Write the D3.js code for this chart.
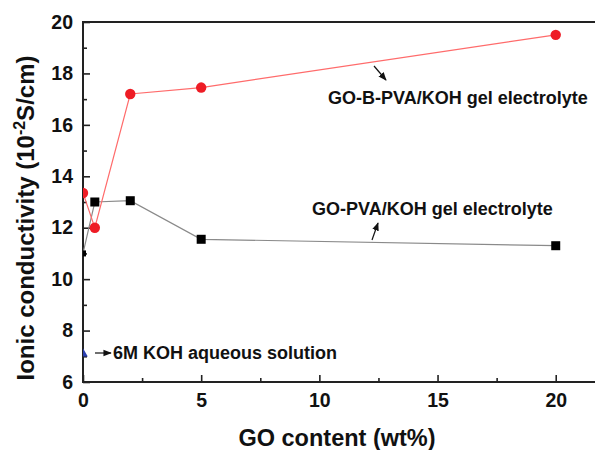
<!DOCTYPE html>
<html>
<head>
<meta charset="utf-8">
<script src="https://cdn.jsdelivr.net/npm/d3@7"></script>
<style>
  html, body { margin: 0; padding: 0; background: #fff; }
  svg { display: block; font-family: "Liberation Sans", Arial, sans-serif; }
</style>
</head>
<body>
<svg id="chart" width="595" height="450"></svg>
<script>
// GO loading (wt%) for each measured sample
const goContent = [0, 0.5, 2, 5, 20];
// Ionic conductivity, 10^-2 S/cm
const goBPva = [13.35, 12.0, 17.2, 17.45, 19.5];
const goPva = [11.0, 13.0, 13.05, 11.55, 11.3];
const kohAqueous = [{ x: 0, y: 7.1 }];

const xTicks = [0, 5, 10, 15, 20];
const yTicks = [6, 8, 10, 12, 14, 16, 18, 20];

const svg = d3.select("#chart");
const m = { left: 83, top: 22, bottom: 382, right: 603 };

const x = d3.scaleLinear().domain([0, 22]).range([m.left, m.right]);
const y = d3.scaleLinear().domain([6, 20]).range([m.bottom, m.top]);

svg.append("defs").append("clipPath").attr("id", "plot")
  .append("rect").attr("x", m.left).attr("y", m.top)
  .attr("width", m.right - m.left).attr("height", m.bottom - m.top);

svg.select("defs").append("marker")
  .attr("id", "head").attr("viewBox", "0 0 10 10")
  .attr("refX", 9).attr("refY", 5)
  .attr("markerWidth", 7).attr("markerHeight", 7)
  .attr("orient", "auto")
  .append("path").attr("d", "M0,1 L10,5 L0,9 Z").attr("fill", "#111");

// frame
svg.append("rect")
  .attr("x", m.left).attr("y", m.top)
  .attr("width", m.right - m.left).attr("height", m.bottom - m.top)
  .attr("fill", "none").attr("stroke", "#222").attr("stroke-width", 2);

// axes with inward ticks
svg.append("g").attr("transform", `translate(0,${m.bottom})`)
  .call(d3.axisBottom(x).tickValues(xTicks).tickSize(-7).tickFormat(d3.format("d")).tickPadding(11));
svg.append("g").attr("transform", `translate(0,${m.bottom})`)
  .call(d3.axisBottom(x).tickValues([2.5, 7.5, 12.5, 17.5]).tickSize(-4).tickFormat(""));
svg.append("g").attr("transform", `translate(${m.left},0)`)
  .call(d3.axisLeft(y).tickValues(yTicks).tickSize(-7).tickPadding(10));
svg.append("g").attr("transform", `translate(${m.left},0)`)
  .call(d3.axisLeft(y).tickValues([7, 9, 11, 13, 15, 17, 19]).tickSize(-4).tickFormat(""));

svg.selectAll(".domain").attr("stroke", "none");
svg.selectAll(".tick line").attr("stroke", "#222").attr("stroke-width", 1.6);
svg.selectAll(".tick text")
  .attr("font-family", "Liberation Sans, Arial, sans-serif")
  .attr("font-size", 19.5).attr("font-weight", "bold").attr("fill", "#111");

// axis titles
svg.append("text")
  .attr("x", 337).attr("y", 446)
  .attr("text-anchor", "middle")
  .attr("font-size", 23.5).attr("font-weight", "bold").attr("fill", "#111")
  .text("GO content (wt%)");

const yt = svg.append("text")
  .attr("transform", "translate(34,218) rotate(-90)")
  .attr("text-anchor", "middle")
  .attr("font-size", 24).attr("font-weight", "bold").attr("fill", "#111");
yt.append("tspan").text("Ionic conductivity (10");
yt.append("tspan").attr("dy", -9).attr("font-size", 16).text("-2");
yt.append("tspan").attr("dy", 9).text("S/cm)");

const plot = svg.append("g").attr("clip-path", "url(#plot)");
const line = d3.line().x(d => x(d[0])).y(d => y(d[1]));

const blackPts = goContent.map((g, i) => [g, goPva[i]]);
const redPts = goContent.map((g, i) => [g, goBPva[i]]);

plot.append("path").datum(blackPts).attr("d", line)
  .attr("fill", "none").attr("stroke", "#8a8a8a").attr("stroke-width", 1.2);
plot.selectAll("rect.sq").data(blackPts).enter().append("rect")
  .attr("class", "sq")
  .attr("x", d => x(d[0]) - (d[0] === 0 ? 3 : 4.5))
  .attr("y", d => y(d[1]) - (d[0] === 0 ? 3 : 4.5))
  .attr("width", d => d[0] === 0 ? 6 : 9)
  .attr("height", d => d[0] === 0 ? 6 : 9)
  .attr("fill", "#000");

plot.append("path").datum(redPts).attr("d", line)
  .attr("fill", "none").attr("stroke", "#ff6b6b").attr("stroke-width", 1.2);
plot.selectAll("circle.rd").data(redPts).enter().append("circle")
  .attr("class", "rd")
  .attr("cx", d => x(d[0])).attr("cy", d => y(d[1])).attr("r", 5.2)
  .attr("fill", "#ee1c25");

plot.selectAll("path.tri").data(kohAqueous).enter().append("path")
  .attr("class", "tri")
  .attr("transform", d => `translate(${x(d.x)},${y(d.y)})`)
  .attr("d", d3.symbol(d3.symbolTriangle, 40))
  .attr("fill", "#2b3fb0");

// labels and pointer arrows
const lab = (tx, ty, t) => svg.append("text").attr("x", tx).attr("y", ty)
  .attr("font-size", 18).attr("font-weight", "bold").attr("fill", "#111").text(t);
lab(328, 104, "GO-B-PVA/KOH gel electrolyte");
lab(312, 215, "GO-PVA/KOH gel electrolyte");
lab(113, 359, "6M KOH aqueous solution");

const arrow = (x1, y1, x2, y2) => svg.append("line")
  .attr("x1", x1).attr("y1", y1).attr("x2", x2).attr("y2", y2)
  .attr("stroke", "#111").attr("stroke-width", 1.2).attr("marker-end", "url(#head)");
arrow(374, 66, 386, 80);
arrow(372, 240, 378, 223);
arrow(95, 353, 111, 353);
</script>
</body>
</html>
